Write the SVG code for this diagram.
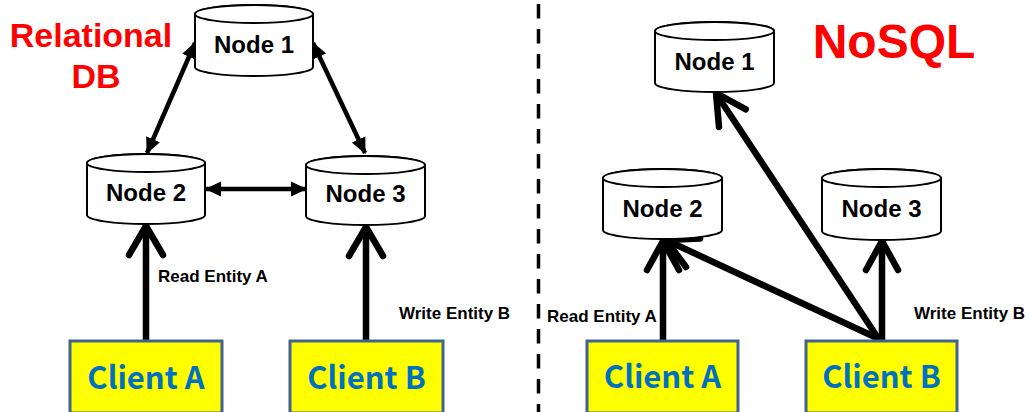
<svg xmlns="http://www.w3.org/2000/svg" width="1029" height="412" viewBox="0 0 1029 412">
  <style>
    .cyl { fill: #ffffff; stroke: #000000; stroke-width: 2; }
    .node-label { font-family: "Liberation Sans", Arial, sans-serif; font-weight: bold; font-size: 24px; fill: #000000; text-anchor: middle; }
    .title { font-family: "Liberation Sans", Arial, sans-serif; font-weight: bold; fill: #ff0000; text-anchor: middle; }
    .client-box { fill: #ffff00; stroke: #41638f; stroke-width: 3; }
    .client-label { font-family: "Noto Sans CJK KR", "Noto Sans", sans-serif; font-weight: bold; font-size: 31px; fill: #0070c0; text-anchor: middle; }
    .edge-label { font-family: "Liberation Sans", Arial, sans-serif; font-weight: bold; font-size: 17px; fill: #000000; }
    .sync { stroke: #000000; stroke-width: 4.5; fill: none; }
    .req { stroke: #000000; stroke-width: 6.5; fill: none; stroke-linecap: round; stroke-linejoin: round; }
    .divider { stroke: #000000; stroke-width: 3.5; stroke-dasharray: 14.5 10.5; }
  </style>
  <defs>
    <marker id="tri" viewBox="0 0 16 16" refX="15" refY="8" markerWidth="16" markerHeight="16" markerUnits="userSpaceOnUse" orient="auto-start-reverse">
      <path d="M0,0.5 L16,8 L0,15.5 Z" fill="#000000"/>
    </marker>
  </defs>

  <rect x="0" y="0" width="1029" height="412" fill="#ffffff"/>

  <!-- divider between the two panels -->
  <line class="divider" x1="538.5" y1="4" x2="538.5" y2="412"/>

  <!-- panel titles -->
  <text class="title" x="91" y="47" font-size="34">Relational</text>
  <text class="title" x="96" y="88" font-size="34">DB</text>
  <text class="title" x="894" y="58" font-size="48">NoSQL</text>

  <!-- connectors -->
  <g id="connectors">
    <!-- relational replication links -->
    <line class="sync" x1="195" y1="43" x2="147" y2="153" marker-start="url(#tri)" marker-end="url(#tri)"/>
    <line class="sync" x1="313" y1="43" x2="365" y2="153" marker-start="url(#tri)" marker-end="url(#tri)"/>
    <line class="sync" x1="206" y1="189" x2="306" y2="189" marker-start="url(#tri)" marker-end="url(#tri)"/>

    <!-- relational client requests -->
    <path class="req" d="M146,341 L146,227"/>
    <path class="req" d="M129,255 L146,226 L163,255"/>
    <path class="req" d="M366,341 L366,228"/>
    <path class="req" d="M349,256 L366,227 L383,256"/>

    <!-- NoSQL client requests -->
    <path class="req" d="M663,341 L663,242"/>
    <path class="req" d="M647,270 L663,241 L679,270"/>
    <path class="req" d="M882,341 L882,242"/>
    <path class="req" d="M866,270 L882,241 L898,270"/>
    <path class="req" d="M877,338 L668,241"/>
    <path class="req" d="M700,238.5 L666,240 L686,267"/>
    <path class="req" d="M878,338 L717,95"/>
    <path class="req" d="M745.8,109.3 L716,93 L719,126.9"/>

    <text class="edge-label" x="158" y="282">Read Entity A</text>
    <text class="edge-label" x="399" y="319">Write Entity B</text>
    <text class="edge-label" x="547" y="322">Read Entity A</text>
    <text class="edge-label" x="914" y="319">Write Entity B</text>
  </g>

  <!-- relational nodes -->
  <g id="rdb-node1">
    <path class="cyl" d="M195,14 L195,67 A59,9 0 0 0 313,67 L313,14 A59,9 0 0 0 195,14 Z"/>
    <ellipse class="cyl" cx="254" cy="14" rx="59" ry="9"/>
    <text class="node-label" x="254" y="53">Node 1</text>
  </g>
  <g id="rdb-node2">
    <path class="cyl" d="M87,163 L87,215 A59,9 0 0 0 205,215 L205,163 A59,9 0 0 0 87,163 Z"/>
    <ellipse class="cyl" cx="146" cy="163" rx="59" ry="9"/>
    <text class="node-label" x="146" y="201">Node 2</text>
  </g>
  <g id="rdb-node3">
    <path class="cyl" d="M306,165 L306,216 A59.5,9 0 0 0 425,216 L425,165 A59.5,9 0 0 0 306,165 Z"/>
    <ellipse class="cyl" cx="365.5" cy="165" rx="59.5" ry="9"/>
    <text class="node-label" x="365.5" y="202">Node 3</text>
  </g>

  <!-- NoSQL nodes -->
  <g id="nosql-node1">
    <path class="cyl" d="M655,31 L655,83 A59.5,9 0 0 0 774,83 L774,31 A59.5,9 0 0 0 655,31 Z"/>
    <ellipse class="cyl" cx="714.5" cy="31" rx="59.5" ry="9"/>
    <text class="node-label" x="714.5" y="70">Node 1</text>
  </g>
  <g id="nosql-node2">
    <path class="cyl" d="M603,178 L603,230 A59.5,9 0 0 0 722,230 L722,178 A59.5,9 0 0 0 603,178 Z"/>
    <ellipse class="cyl" cx="662.5" cy="178" rx="59.5" ry="9"/>
    <text class="node-label" x="662.5" y="217">Node 2</text>
  </g>
  <g id="nosql-node3">
    <path class="cyl" d="M822,178 L822,231 A59.5,9 0 0 0 941,231 L941,178 A59.5,9 0 0 0 822,178 Z"/>
    <ellipse class="cyl" cx="881.5" cy="178" rx="59.5" ry="9"/>
    <text class="node-label" x="881.5" y="217">Node 3</text>
  </g>

  <!-- clients -->
  <g id="rdb-client-a">
    <rect class="client-box" x="70" y="341" width="152" height="72"/>
    <text class="client-label" x="146" y="389">Client A</text>
  </g>
  <g id="rdb-client-b">
    <rect class="client-box" x="290" y="341" width="153" height="72"/>
    <text class="client-label" x="366.5" y="389">Client B</text>
  </g>
  <g id="nosql-client-a">
    <rect class="client-box" x="587" y="341" width="151" height="72"/>
    <text class="client-label" x="662.5" y="388">Client A</text>
  </g>
  <g id="nosql-client-b">
    <rect class="client-box" x="806" y="341" width="151" height="72"/>
    <text class="client-label" x="881.5" y="388">Client B</text>
  </g>
</svg>
